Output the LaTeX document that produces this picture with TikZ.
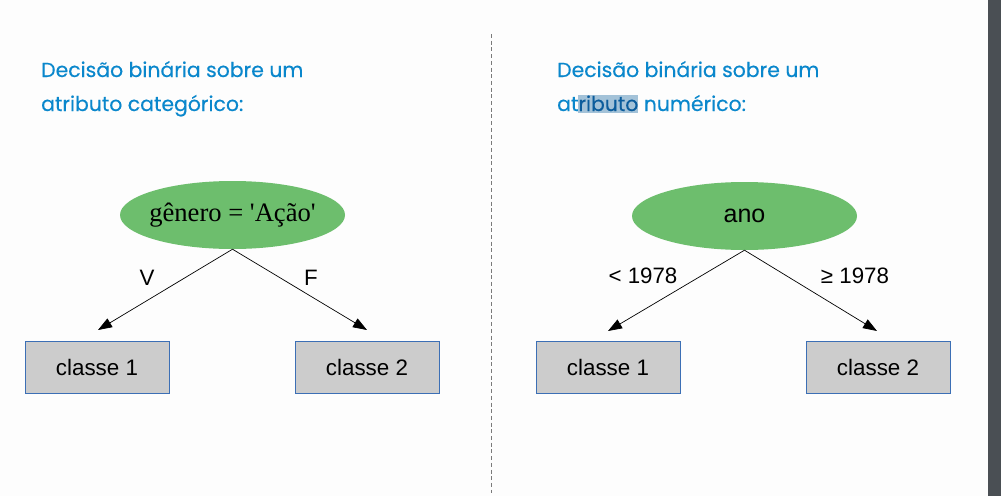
\documentclass[tikz,border=0pt]{standalone}
\usepackage{fontspec}
\setmainfont{Liberation Sans}
\newfontfamily\titlefont[FakeBold=0.35]{Poppins}
\newfontfamily\serfont{Liberation Serif}
\usetikzlibrary{shapes.geometric,arrows.meta}
\definecolor{bgc}{HTML}{FDFDFD}
\definecolor{titleblue}{HTML}{0A87CC}
\definecolor{hlbg}{HTML}{A3C2D8}
\definecolor{hltx}{HTML}{0B5C9C}
\definecolor{greenfill}{HTML}{6DBE6D}
\definecolor{boxfill}{HTML}{CCCCCC}
\definecolor{boxline}{HTML}{3C6FB5}
\definecolor{barc}{HTML}{4A4F54}
\definecolor{divc}{HTML}{7A7A7A}
\tikzset{
  titletext/.style={anchor=base west, inner sep=0pt, text=titleblue, font=\titlefont\fontsize{20.4}{22}\selectfont},
  decnode/.style={ellipse, fill=greenfill, draw=none, minimum width=225pt, minimum height=68pt, inner sep=0pt},
  leafbox/.style={rectangle, fill=boxfill, draw=boxline, line width=0.9pt, minimum width=144pt, minimum height=52pt, inner sep=0pt, font=\fontsize{22.4}{24}\selectfont},
  edgelabel/.style={inner sep=0pt, font=\fontsize{22.3}{24}\selectfont},
  branch/.style={draw=black, line width=0.7pt, -{Triangle[length=14pt,width=10pt]}}
}
\begin{document}
\begin{tikzpicture}[x=1pt,y=-1pt]
\fill[bgc] (0,0) rectangle (1001,496);
\useasboundingbox (0,0) rectangle (1001,496);
\fill[barc] (988,0) rectangle (1001,496);
% divider
\coordinate (dtop) at (491.5,34);
\coordinate (dbot) at (491.5,493);
\draw[divc, line width=1.6pt, dash pattern=on 4pt off 2.7pt] (dtop) -- (dbot);
% titles
\node[titletext] (t1a) at (41,77) {Decisão binária sobre um};
\node[titletext] (t1b) at (41,111) {atributo categórico:};
\node[titletext] (t2a) at (557,77) {Decisão binária sobre um};
\node[titletext] (t2b) at (557,111) {at{\setlength\fboxsep{0pt}\colorbox{hlbg}{\rule[-2pt]{0pt}{18pt}\textcolor{hltx}{ributo}}} numérico:};
% left tree
\node[decnode, font=\serfont\fontsize{26.6}{30}\selectfont] (e1) at (232.5,215) {\makebox[0pt]{gênero = 'Ação'}};
\node[leafbox] (b1) at (97,367) {classe 1};
\node[leafbox] (b2) at (367,367) {classe 2};
\coordinate (a1) at (98,330);
\coordinate (a2) at (367,330);
\draw[branch] (e1.south) -- (a1);
\draw[branch] (e1.south) -- (a2);
\node[edgelabel] (l1) at (147,278) {V};
\node[edgelabel] (l2) at (311,278) {F};
% right tree
\node[decnode, font=\fontsize{25}{26}\selectfont] (e2) at (744.5,216) {\makebox[0pt]{ano}};
\node[leafbox] (b3) at (608,367) {classe 1};
\node[leafbox] (b4) at (878,367) {classe 2};
\coordinate (a3) at (608,331);
\coordinate (a4) at (877,331);
\draw[branch] (e2.south) -- (a3);
\draw[branch] (e2.south) -- (a4);
\node[edgelabel] (l3) at (643,276) {< 1978};
\node[edgelabel] (l4) at (855,276) {≥ 1978};
\end{tikzpicture}
\end{document}
